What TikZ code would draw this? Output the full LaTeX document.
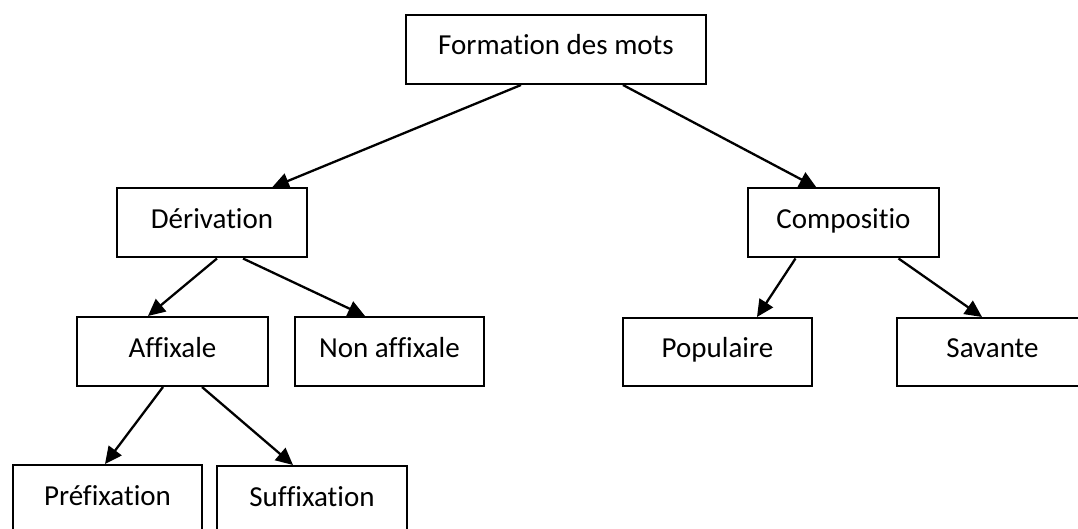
\documentclass[tikz,border=0pt]{standalone}
\usepackage{fontspec}
\setmainfont{Carlito}[Ligatures={NoCommon}]
\usetikzlibrary{arrows.meta}
\begin{document}
\begin{tikzpicture}[x=1pt,y=-1pt,
  box/.style={draw, line width=2pt, rectangle, inner sep=0pt,
    minimum height=69pt, text height=20pt, text depth=9pt,
    font=\fontsize{29}{33}\selectfont},
  arr/.style={line width=2.3pt, -{Triangle[length=17pt,width=16pt]}}]
\useasboundingbox (0,0) rectangle (1078,529);
\clip (0,0) rectangle (1078,529);
\fill[white] (0,0) rectangle (1078,529);
\node[box, minimum width=300pt] (form) at (556,49.5) {Formation des mots};
\node[box, minimum width=190pt] (der) at (212,223) {Dérivation};
\node[box, minimum width=191pt] (comp) at (843.5,223) {Compositio};
\node[box, minimum width=191pt] (aff) at (172.5,351.5) {Affixale};
\node[box, minimum width=189pt] (naff) at (389.5,351.5) {Non affixale};
\node[box, minimum width=189pt, minimum height=68pt] (pop) at (717.5,352) {Populaire};
\node[box, minimum width=191pt, minimum height=68pt] (sav) at (992.5,352) {Savante};
\node[box, minimum width=189pt] (pref) at (107.5,499.5) {Préfixation};
\node[box, minimum width=190pt] (suff) at (312,500.5) {Suffixation};
\draw[arr] ([xshift=-35pt]form.south) -- ([xshift=60pt]der.north);
\draw[arr] ([xshift=67pt]form.south) -- ([xshift=-27pt]comp.north);
\draw[arr] ([xshift=5pt]der.south) -- ([xshift=-24.5pt]aff.north);
\draw[arr] ([xshift=31pt]der.south) -- ([xshift=-24.5pt]naff.north);
\draw[arr] ([xshift=-48pt]comp.south) -- ([xshift=39.5pt]pop.north);
\draw[arr] ([xshift=55pt]comp.south) -- ([xshift=-10.5pt]sav.north);
\draw[arr] ([xshift=-9.5pt]aff.south) -- ([xshift=-2.5pt]pref.north);
\draw[arr] ([xshift=29.5pt]aff.south) -- ([xshift=-19pt]suff.north);
\end{tikzpicture}
\end{document}
